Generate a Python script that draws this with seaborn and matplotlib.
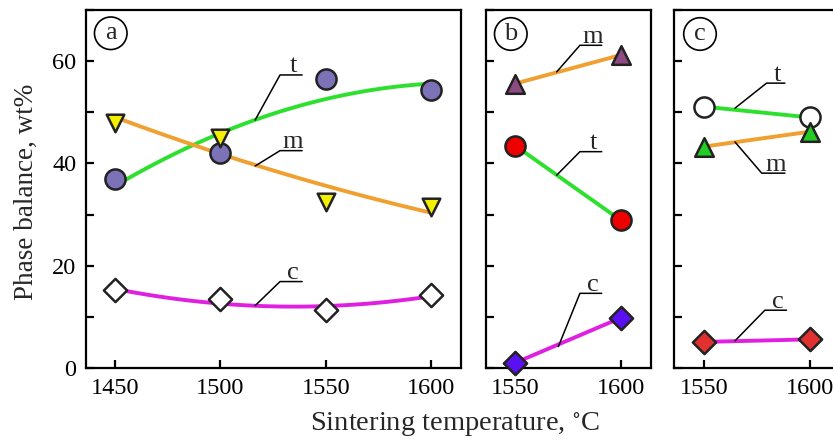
import numpy as np
import pandas as pd
import matplotlib
matplotlib.use("Agg")
import matplotlib.pyplot as plt
import seaborn as sns
from matplotlib.ticker import MultipleLocator

# data
temps_a = [1450, 1500, 1550, 1600]
a_t = [36.9, 42.0, 56.5, 54.3]
a_m = [48.0, 45.0, 32.5, 31.4]
a_c = [15.2, 13.4, 11.3, 14.3]

temps_bc = [1550, 1600]
b_m = [55.6, 61.2]
b_t = [43.5, 28.9]
b_c = [1.0, 9.8]

c_t = [51.1, 49.0]
c_m = [43.3, 46.2]
c_c = [5.1, 5.6]

phase_names = ["t", "m", "c"]

sns.set_theme(style="ticks")
plt.rcParams["font.family"] = ["Liberation Serif", "DejaVu Serif"]
plt.rcParams["mathtext.fontset"] = "stix"

GREEN = "#2ee02e"
ORANGE = "#f0a030"
MAGENTA = "#e020e0"

fig = plt.figure(figsize=(8.33, 4.41), dpi=100)
fig.patch.set_facecolor("white")

# axes placed in pixels (left, right) of the original, y shared
W, H = 833, 441
top_px, bot_px = 10, 368
panels_px = {"a": (86, 461), "b": (485.7, 650.7), "c": (674.3, 839)}
xlims = {"a": (1436.2, 1614.2), "b": (1536.1, 1614.2), "c": (1535.8, 1614.0)}
axes = {}
for key, (l, r) in panels_px.items():
    ax = fig.add_axes([l / W, (H - bot_px) / H, (r - l) / W, (bot_px - top_px) / H])
    axes[key] = ax


def style_axis(ax, key, show_ylabels):
    ax.set_xlim(*xlims[key])
    ax.set_ylim(0, 70)
    ax.set_facecolor("white")
    for s in ax.spines.values():
        s.set_linewidth(1.6)
        s.set_color("black")
    ax.xaxis.set_major_locator(MultipleLocator(50))
    ax.yaxis.set_major_locator(MultipleLocator(20) if show_ylabels else MultipleLocator(10))
    ax.yaxis.set_minor_locator(MultipleLocator(10))
    ax.tick_params(axis="both", which="both", direction="in", length=6, width=1.6,
                   labelsize=17.5, colors="black", pad=7)
    ax.tick_params(axis="x", which="minor", length=0)
    ax.tick_params(axis="y", which="minor", length=6)
    if not show_ylabels:
        ax.set_yticklabels([])
    ax.set_xlabel("")
    ax.set_ylabel("")
    ax.grid(False)


def circled(ax, letter, x, y):
    ax.text(x, y, letter, transform=ax.transAxes, fontsize=19, ha="center", va="center",
            bbox=dict(boxstyle="circle,pad=0.2", fc="white", ec="black", lw=1.2), zorder=6)


def leader(ax, pts, name):
    x0, y0, x1, y1, x2 = pts
    ax.plot([x0, x1, x2], [y0, y1, y1], color="black", lw=1.1, zorder=4)
    ax.text((x1 + x2) / 2 + 1, y1 + 0.5, name, fontsize=19, ha="center", va="baseline", zorder=6)


# ---- panel a: quadratic trend lines ----
ax = axes["a"]
df_a = pd.DataFrame({"T": temps_a, "t": a_t, "m": a_m, "c": a_c})
for col, lc in zip(phase_names, [GREEN, ORANGE, MAGENTA]):
    sns.regplot(data=df_a, x="T", y=col, order=2, ci=None, scatter=False, ax=ax,
                line_kws=dict(color=lc, lw=2.8, zorder=2))
sns.scatterplot(data=df_a, x="T", y="t", marker="o", s=210, color="#7b72b8",
                edgecolor="#222222", linewidth=1.8, ax=ax, zorder=5)
sns.scatterplot(data=df_a, x="T", y="m", marker="v", s=160, color="#f2f000",
                edgecolor="#222222", linewidth=1.8, ax=ax, zorder=5)
sns.scatterplot(data=df_a, x="T", y="c", marker="D", s=140, color="white",
                edgecolor="#222222", linewidth=1.8, ax=ax, zorder=5)
style_axis(ax, "a", True)
circled(ax, "a", 0.066, 0.935)
leader(ax, (1516.5, 48.5, 1528.3, 57.3, 1538.8), "t")
leader(ax, (1516.5, 39.5, 1528.3, 42.5, 1538.8), "m")
leader(ax, (1516.5, 12.2, 1528.3, 16.9, 1538.8), "c")

# ---- panel b ----
ax = axes["b"]
df_b = pd.DataFrame({"T": temps_bc, "t": b_t, "m": b_m, "c": b_c})
for col, lc in zip(phase_names, [GREEN, ORANGE, MAGENTA]):
    sns.lineplot(data=df_b, x="T", y=col, color=lc, lw=2.8, ax=ax, zorder=2)
sns.scatterplot(data=df_b, x="T", y="m", marker="^", s=180, color="#8e4a82",
                edgecolor="#222222", linewidth=1.8, ax=ax, zorder=5, clip_on=False)
sns.scatterplot(data=df_b, x="T", y="t", marker="o", s=210, color="#ee0000",
                edgecolor="#222222", linewidth=1.8, ax=ax, zorder=5, clip_on=False)
sns.scatterplot(data=df_b, x="T", y="c", marker="D", s=140, color="#5a10f0",
                edgecolor="#222222", linewidth=1.8, ax=ax, zorder=5, clip_on=False)
style_axis(ax, "b", False)
circled(ax, "b", 0.152, 0.933)
leader(ax, (1569.7, 57.9, 1580.7, 63.1, 1591.0), "m")
leader(ax, (1569.7, 37.7, 1580.7, 42.3, 1591.0), "t")
leader(ax, (1570.5, 4.2, 1580.7, 14.6, 1591.0), "c")

# ---- panel c ----
ax = axes["c"]
df_c = pd.DataFrame({"T": temps_bc, "t": c_t, "m": c_m, "c": c_c})
for col, lc in zip(phase_names, [GREEN, ORANGE, MAGENTA]):
    sns.lineplot(data=df_c, x="T", y=col, color=lc, lw=2.8, ax=ax, zorder=2)
sns.scatterplot(data=df_c, x="T", y="t", marker="o", s=210, color="white",
                edgecolor="#222222", linewidth=1.8, ax=ax, zorder=5)
sns.scatterplot(data=df_c, x="T", y="m", marker="^", s=180, color="#22cc22",
                edgecolor="#222222", linewidth=1.8, ax=ax, zorder=5)
sns.scatterplot(data=df_c, x="T", y="c", marker="D", s=140, color="#e03030",
                edgecolor="#222222", linewidth=1.8, ax=ax, zorder=5)
style_axis(ax, "c", False)
circled(ax, "c", 0.156, 0.933)
leader(ax, (1564.6, 50.8, 1579.6, 55.7, 1588.3), "t")
leader(ax, (1564.6, 44.2, 1577.3, 38.1, 1588.3), "m")
leader(ax, (1564.6, 5.3, 1578.8, 11.3, 1589.1), "c")

fig.text(26 / W, 1 - 192 / H, "Phase balance, wt%", rotation=90, fontsize=19.5,
         ha="center", va="center")
fig.text(455 / W, 1 - 424 / H, "Sintering temperature, $^{\\circ}$C", fontsize=20.5,
         ha="center", va="center")

fig.savefig("out.png", dpi=100, facecolor="white")
